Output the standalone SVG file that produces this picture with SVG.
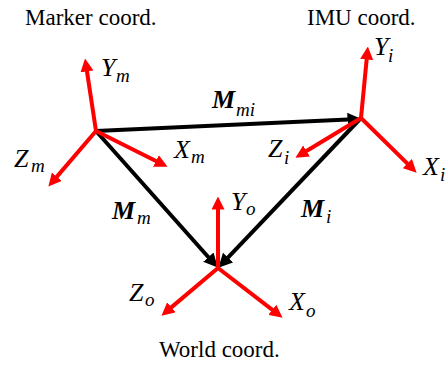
<svg xmlns="http://www.w3.org/2000/svg" width="448" height="367" viewBox="0 0 448 367">
<style>
.cap{font-family:"Liberation Serif","Times New Roman",serif;font-size:23px;fill:#000}
.m{font-family:"Liberation Serif","Times New Roman",serif;font-style:italic;font-size:26px;fill:#000}
.b{font-weight:bold}
.s{font-size:19px;font-weight:normal}
.r{stroke:#ff0000;stroke-width:4;fill:none;marker-end:url(#ar)}
.k{stroke:#000;stroke-width:4;fill:none;marker-end:url(#ak)}
</style>
<defs>
<marker id="ar" markerUnits="userSpaceOnUse" markerWidth="13" markerHeight="13" viewBox="0 0 13 13" refX="0.5" refY="6.5" orient="auto"><path d="M0,0L13,6.5L0,13z" fill="#ff0000"/></marker>
<marker id="ak" markerUnits="userSpaceOnUse" markerWidth="14" markerHeight="14" viewBox="0 0 14 14" refX="0.5" refY="7" orient="auto"><path d="M0,0L14,7L0,14z" fill="#000"/></marker>
</defs>
<g id="connectors">
<line class="k" x1="96" y1="131" x2="348" y2="119.6"/>
<line class="k" x1="96" y1="131" x2="208.7" y2="257.5"/>
<line class="k" x1="361" y1="118" x2="227.7" y2="257.9"/>
</g>
<g id="marker-frame">
<text class="cap" x="25" y="25">Marker coord.</text>
<line class="r" x1="96" y1="131" x2="86.9" y2="70.9"/>
<line class="r" x1="96" y1="131" x2="56.5" y2="177.1"/>
<line class="r" x1="96" y1="131" x2="156.4" y2="161.2"/>
<text class="m" x="101" y="76">Y<tspan class="s" x="116" y="82">m</tspan></text>
<text class="m" x="14" y="167">Z<tspan class="s" x="31" y="172">m</tspan></text>
<text class="m" x="174" y="158">X<tspan class="s" x="191" y="163">m</tspan></text>
</g>
<g id="imu-frame">
<text class="cap" x="307" y="25">IMU coord.</text>
<line class="r" x1="361" y1="118" x2="366.7" y2="59"/>
<line class="r" x1="361" y1="118" x2="306.1" y2="151.3"/>
<line class="r" x1="361" y1="118" x2="407.7" y2="163.9"/>
<text class="m" x="374" y="55">Y<tspan class="s" x="388" y="62">i</tspan></text>
<text class="m" x="268" y="157">Z<tspan class="s" x="284" y="164">i</tspan></text>
<text class="m" x="423" y="175">X<tspan class="s" x="440" y="181">i</tspan></text>
</g>
<g id="world-frame">
<text class="cap" x="159" y="357">World coord.</text>
<line class="r" x1="218" y1="268" x2="218" y2="209"/>
<line class="r" x1="218" y1="268" x2="171" y2="307.6"/>
<line class="r" x1="218" y1="268" x2="272.7" y2="310.1"/>
<text class="m" x="231" y="210">Y<tspan class="s" x="246" y="215">o</tspan></text>
<text class="m" x="129" y="301">Z<tspan class="s" x="145" y="306">o</tspan></text>
<text class="m" x="289" y="310">X<tspan class="s" x="306" y="317">o</tspan></text>
</g>
<g id="labels">
<text class="m b" x="212" y="108">M<tspan class="s" x="236" y="116">mi</tspan></text>
<text class="m b" x="112" y="219">M<tspan class="s" x="137" y="224">m</tspan></text>
<text class="m b" x="301" y="217">M<tspan class="s" x="326" y="223">i</tspan></text>
</g>
</svg>
